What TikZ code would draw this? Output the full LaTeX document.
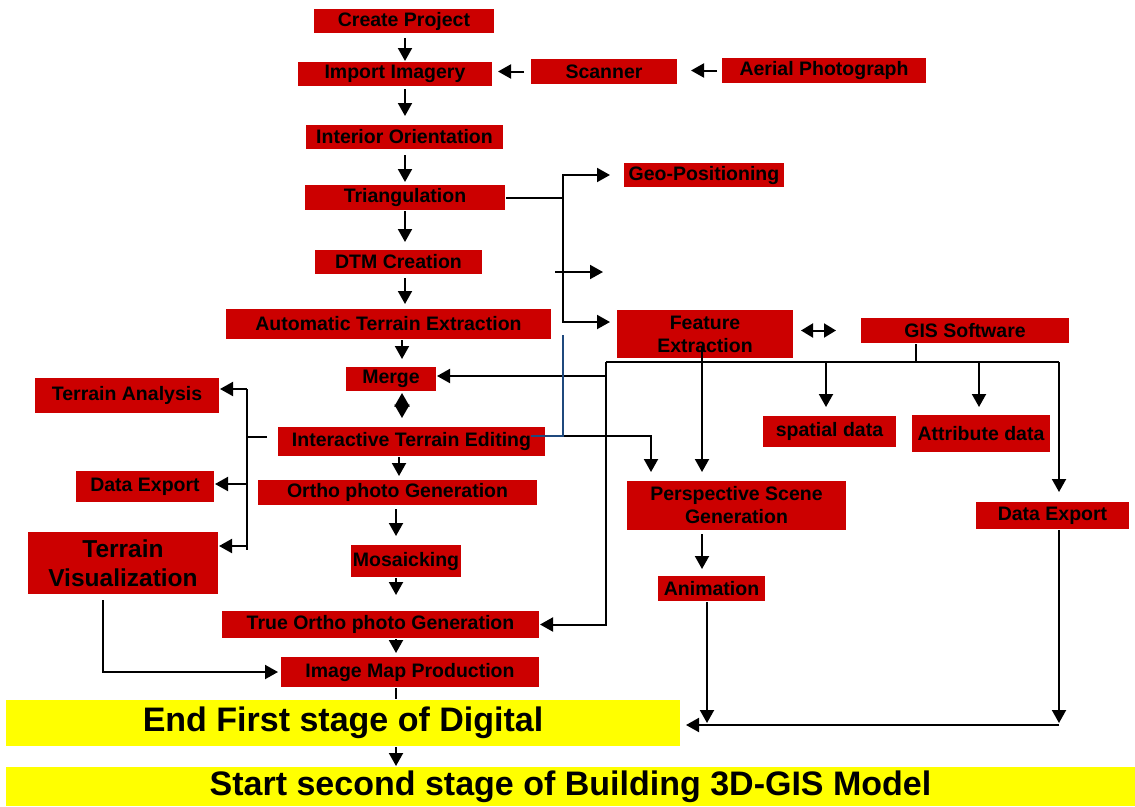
\documentclass[tikz,border=0pt]{standalone}
\usepackage{fontspec}
\setmainfont{Liberation Sans}
\usetikzlibrary{arrows.meta,calc}

\definecolor{boxred}{RGB}{204,0,0}
\definecolor{hiyel}{RGB}{255,255,0}
\definecolor{navy}{RGB}{31,73,125}

\begin{document}
\begin{tikzpicture}[x=1pt,y=-1pt,>={Triangle[length=13pt,width=14pt]},line width=2pt,
  box/.style={fill=boxred,inner sep=0pt,align=center,font=\fontsize{19.5}{23}\selectfont\bfseries},
  ybox/.style={fill=hiyel,inner sep=0pt,font=\fontsize{34}{38}\selectfont\bfseries}]
  \useasboundingbox (0,0) rectangle (1135,806);
  % main column
  \node[box,minimum width=180,minimum height=24] (create) at (404,21) {Create Project};
  \node[box,minimum width=194,minimum height=24] (import) at (395,74) {Import Imagery};
  \node[box,minimum width=146,minimum height=25] (scanner) at (604,71.5) {Scanner};
  \node[box,minimum width=204,minimum height=25] (aerial) at (824,70.5) {Aerial Photograph};
  \node[box,minimum width=197,minimum height=24] (interior) at (404.5,137) {Interior Orientation};
  \node[box,minimum width=200,minimum height=25] (triang) at (405,197.5) {Triangulation};
  \node[box,minimum width=160,minimum height=24] (geopos) at (704,175) {Geo-Positioning};
  \node[box,minimum width=167,minimum height=24] (dtm) at (398.5,262) {DTM Creation};
  \node[box,minimum width=325,minimum height=30] (autoext) at (388.5,324) {Automatic Terrain Extraction};
  \node[box,minimum width=90,minimum height=24] (merge) at (391,379) {Merge};
  \node[box,minimum width=176,minimum height=48] (feature) at (705,334) {Feature\\Extraction};
  \node[box,minimum width=208,minimum height=25] (gis) at (965,330.5) {GIS Software};
  \node[box,minimum width=184,minimum height=35] (tanalysis) at (127,395.5) {Terrain Analysis};
  \node[box,minimum width=267,minimum height=29] (editing) at (411.5,441.5) {Interactive Terrain Editing};
  \node[box,minimum width=133,minimum height=31] (spatial) at (829.5,431.5) {spatial data};
  \node[box,minimum width=138,minimum height=37] (attrib) at (981,433.5) {Attribute data};
  \node[box,minimum width=138,minimum height=31] (exportl) at (145,486.5) {Data Export};
  \node[box,minimum width=279,minimum height=25] (ortho) at (397.5,492.5) {Ortho photo Generation};
  \node[box,minimum width=219,minimum height=49] (persp) at (736.5,505.5) {Perspective Scene\\Generation};
  \node[box,minimum width=153,minimum height=27] (exportr) at (1052.5,515.5) {Data Export};
  \node[box,minimum width=190,minimum height=62,font=\fontsize{24.5}{29}\selectfont\bfseries] (tvis) at (123,563) {Terrain\\Visualization};
  \node[box,minimum width=110,minimum height=32] (mosaic) at (406,561) {Mosaicking};
  \node[box,minimum width=107,minimum height=25] (anim) at (711.5,588.5) {Animation};
  \node[box,minimum width=317,minimum height=27] (trueortho) at (380.5,624.5) {True Ortho photo Generation};
  \node[box,minimum width=258,minimum height=30] (imap) at (410,672) {Image Map Production};
  \node[ybox,minimum width=674,minimum height=46] (endfirst) at (343,723) {End First stage of Digital};
  \node[ybox,minimum width=1129,minimum height=39] (start) at (570.5,786.5) {Start second stage of Building 3D-GIS Model};

  % junction points
  \coordinate (c1) at (405,0); \coordinate (c2) at (402,0);
  \coordinate (c3) at (399,0); \coordinate (c4) at (396,0);
  \coordinate (tj) at (563,0);
  \coordinate (midA) at (555,272); \coordinate (midB) at (603,272);
  \coordinate (gL) at (606,362); \coordinate (gM) at (916,362); \coordinate (gR) at (1059,362);
  \coordinate (gS) at (826,362); \coordinate (gA) at (979,362); \coordinate (gm) at (606,376);
  \coordinate (fx) at (702,0); \coordinate (ej) at (651,436);
  \coordinate (bt) at (563,335); \coordinate (bj) at (563,436);
  \coordinate (jA) at (707,725); \coordinate (jB) at (1059,725);
  \coordinate (lk) at (267,437); \coordinate (lt) at (247,437);
  \coordinate (lA) at (247,389); \coordinate (lD) at (247,484);
  \coordinate (lV) at (247,546); \coordinate (lB) at (247,550);

  % main flow
  \draw[->,shorten <=4pt] (create.south -| c1) -- (import.north -| c1);
  \draw[->,shorten <=2pt,shorten >=8pt] (import.south -| c1) -- (interior.north -| c1);
  \draw[->,shorten <=5pt,shorten >=2pt] (interior.south -| c1) -- (triang.north -| c1);
  \draw[->,shorten >=7pt] (triang.south -| c1) -- (dtm.north -| c1);
  \draw[->,shorten <=3pt,shorten >=4pt] (dtm.south -| c1) -- (autoext.north -| c1);
  \draw[->,shorten >=7pt] (autoext.south -| c2) -- (merge.north -| c2);
  \draw[{Triangle[length=13.5pt,width=15pt]}-{Triangle[length=13.5pt,width=15pt]},shorten <=1pt,shorten >=8pt] (merge.south -| c2) -- (editing.north -| c2);
  \draw[->,shorten >=3pt] (editing.south -| c3) -- (ortho.north -| c3);
  \draw[->,shorten <=3pt,shorten >=8pt] (ortho.south -| c4) -- (mosaic.north -| c4);
  \draw[->,shorten >=15pt] (mosaic.south -| c4) -- (trueortho.north -| c4);
  \draw[->,shorten >=3pt] (trueortho.south -| c4) -- (imap.north -| c4);
  \draw (imap.south -| c4) -- (endfirst.north -| c4);
  \draw[->] (endfirst.south -| c4) -- (start.north -| c4);

  % inputs
  \draw[->,shorten <=6pt,shorten >=5pt] (scanner.west) -- (scanner.west -| import.east);
  \draw[->,shorten <=4pt,shorten >=13pt] (aerial.west) -- (aerial.west -| scanner.east);

  % triangulation branches
  \draw (triang.east) -- (triang.east -| tj);
  \draw[->,shorten >=13pt] (triang.east -| tj) |- (geopos.west);
  \draw[->,shorten >=6pt] (triang.east -| tj) |- ([yshift=12pt]feature.west);
  \draw[->] (midA) -- (midB);
  \draw[{Triangle[length=12pt,width=14pt]}-{Triangle[length=12pt,width=14pt]},shorten <=7pt,shorten >=24pt] (feature.east |- gis.west) -- (gis.west);

  % GIS tree
  \draw (gis.south -| gM) -- (gM);
  \draw (gL) -- (gR);
  \draw[->,shorten >=8pt] (gS) -- (spatial.north -| gS);
  \draw[->,shorten >=7pt] (gA) -- (attrib.north -| gA);
  \draw[->,shorten >=9pt] (gR) -- (exportr.north -| gR);
  \draw[->] (gL) |- (trueortho.east);
  \draw[->] (gm) -- (gm -| merge.east);

  % perspective branch
  \draw[->,shorten >=8pt] ($(feature.south -| fx)+(0,-13)$) -- (persp.north -| fx);
  \draw[->,shorten >=8pt] (editing.east |- ej) -| (persp.north -| ej);
  \draw[navy,line width=1.5pt] (bt) -- (bj) -- ($(bj -| editing.east)+(-15,0)$);
  \draw[->,shorten <=3pt,shorten >=6pt] (persp.south -| fx) -- (anim.north -| fx);
  \draw[->,shorten >=2pt] (anim.south -| jA) -- (jA);
  \draw[->,shorten >=2pt] (exportr.south -| jB) -- (jB);
  \draw[->,shorten >=5pt] (jB) -- (jB -| endfirst.east);

  % left tree
  \draw (lk) -- (lt);
  \draw (lA) -- (lB);
  \draw[->] (lA) -- (lA -| tanalysis.east);
  \draw[->] (lD) -- (lD -| exportl.east);
  \draw[->] (lV) -- (lV -| tvis.east);
  \draw[->,shorten >=2pt] ($(tvis.south)+(-20,5)$) |- (imap.west);
\end{tikzpicture}
\end{document}
